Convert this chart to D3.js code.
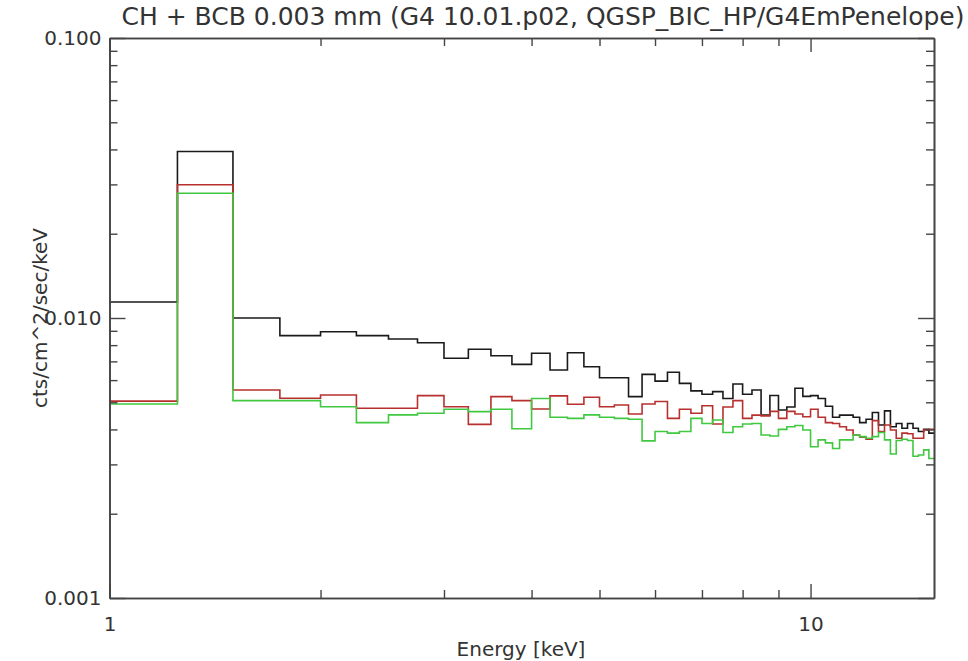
<!DOCTYPE html>
<html>
<head>
<meta charset="utf-8">
<script src="https://cdn.jsdelivr.net/npm/d3@7"></script>
<style>
  body { margin: 0; background: #fff; }
  svg { display: block; }
  text { font-family: "DejaVu Sans", sans-serif; fill: #333; }
</style>
</head>
<body>
<svg width="968" height="661"></svg>
<script>
// bin edges: 1 keV to 15 keV, 0.25 keV wide
const binEdges = d3.range(1, 15.001, 0.25)

// counts per bin (cts/cm^2/sec/keV)
const blackValues = [
  0.0114, 0.0393, 0.0100, 0.00865, 0.00893, 0.00865, 0.00841, 0.00816, 0.00718, 0.00773,
  0.00733, 0.00683, 0.00748, 0.00652, 0.00751, 0.00670, 0.00612, 0.00612, 0.00524, 0.00629,
  0.00595, 0.00640, 0.00584, 0.00549, 0.00534, 0.00546, 0.00516, 0.00581, 0.00534, 0.00553,
  0.00450, 0.00529, 0.00469, 0.00481, 0.00561, 0.00525, 0.00528, 0.00516, 0.00484, 0.00442,
  0.00450, 0.00450, 0.00442, 0.00423, 0.00435, 0.00460, 0.00415, 0.00466, 0.00409, 0.00420,
  0.00404, 0.00420, 0.00404, 0.00393, 0.00400, 0.00388
]
const redValues = [
  0.00505, 0.0299, 0.00553, 0.00517, 0.00531, 0.00476, 0.00476, 0.00528, 0.00482, 0.00417,
  0.00524, 0.00507, 0.00473, 0.00527, 0.00492, 0.00521, 0.00482, 0.00489, 0.00454, 0.00493,
  0.00503, 0.00438, 0.00472, 0.00457, 0.00486, 0.00418, 0.00481, 0.00507, 0.00438, 0.00450,
  0.00447, 0.00464, 0.00438, 0.00464, 0.00454, 0.00444, 0.00472, 0.00442, 0.00423, 0.00420,
  0.00409, 0.00398, 0.00382, 0.00375, 0.00369, 0.00430, 0.00393, 0.00415, 0.00398, 0.00372,
  0.00388, 0.00386, 0.00372, 0.00372, 0.00398, 0.00400
]
const greenValues = [
  0.00493, 0.0279, 0.00507, 0.00507, 0.00482, 0.00423, 0.00451, 0.00457, 0.00472, 0.00463,
  0.00472, 0.00402, 0.00516, 0.00442, 0.00438, 0.00451, 0.00442, 0.00438, 0.00435, 0.00364,
  0.00393, 0.00388, 0.00393, 0.00438, 0.00420, 0.00432, 0.00390, 0.00409, 0.00418, 0.00420,
  0.00382, 0.00379, 0.00400, 0.00409, 0.00413, 0.00398, 0.00347, 0.00367, 0.00358, 0.00342,
  0.00367, 0.00367, 0.00382, 0.00377, 0.00372, 0.00377, 0.00390, 0.00367, 0.00327, 0.00365,
  0.00369, 0.00365, 0.00321, 0.00324, 0.00338, 0.00315
]

// tick labels
const xMajorTicks = [1, 10]
const xMinorTicks = [2, 3, 4, 5, 6, 7, 8, 9]
const yMajorTicks = [0.001, 0.01, 0.1]
const yMajorLabels = ["0.001", "0.010", "0.100"]
const yMinorTicks = [2, 3, 4, 5, 6, 7, 8, 9].flatMap(k => [k * 0.001, k * 0.01])

const series = [
  {name: "black", values: blackValues, color: "#1a1a1a"},
  {name: "red", values: redValues, color: "#b8302e"},
  {name: "green", values: greenValues, color: "#40c840"}
]

var svg = d3.select("svg"),
    margin = {top: 38, right: 34, bottom: 63, left: 109.5},
    width = 968 - margin.left - margin.right,
    height = 661 - margin.top - margin.bottom,
    g = svg.append("g").attr("transform", "translate(" + margin.left + "," + margin.top + ")")

var x = d3.scaleLog().domain([1, 15]).range([0, width])
var y = d3.scaleLog().domain([0.001, 0.1]).range([height, 0])

// step histograms, drawn black, red, green
const line = d3.line()
  .x(d => x(d[0]))
  .y(d => y(d[1]))
  .curve(d3.curveStepAfter)

series.forEach(s => {
  let pts = s.values.map((v, i) => [binEdges[i], v])
  pts.push([binEdges[s.values.length], s.values[s.values.length - 1]])
  g.append("path")
    .datum(pts)
    .attr("fill", "none")
    .attr("stroke", s.color)
    .attr("stroke-width", 1.6)
    .attr("d", line)
})

// axes, ticks pointing inside like IDL
function styleAxis(sel) {
  sel.select(".domain").attr("stroke", "#444").attr("stroke-width", 1.6)
  sel.selectAll(".tick line").attr("stroke", "#444").attr("stroke-width", 1.4)
}
function styleLabels(sel) {
  sel.selectAll(".tick text").attr("font-size", 20).attr("fill", "#333").style("font-family", "DejaVu Sans")
}

g.append("g").attr("transform", "translate(0," + height + ")")
  .call(d3.axisBottom(x).tickValues(xMajorTicks).tickSize(-14).tickSizeOuter(0).tickPadding(19).tickFormat(d3.format("d")))
  .call(styleAxis)
  .call(styleLabels)
g.append("g").attr("transform", "translate(0," + height + ")")
  .call(d3.axisBottom(x).tickValues(xMinorTicks).tickSize(-8).tickSizeOuter(0).tickFormat(""))
  .call(styleAxis)

g.append("g")
  .call(d3.axisTop(x).tickValues(xMajorTicks).tickSize(-14).tickSizeOuter(0).tickFormat(""))
  .call(styleAxis)
g.append("g")
  .call(d3.axisTop(x).tickValues(xMinorTicks).tickSize(-8).tickSizeOuter(0).tickFormat(""))
  .call(styleAxis)

g.append("g")
  .call(d3.axisLeft(y).tickValues(yMajorTicks).tickSize(-16).tickSizeOuter(0).tickPadding(8)
    .tickFormat((d, i) => yMajorLabels[i]))
  .call(styleAxis)
  .call(styleLabels)
g.append("g")
  .call(d3.axisLeft(y).tickValues(yMinorTicks).tickSize(-8).tickSizeOuter(0).tickFormat(""))
  .call(styleAxis)

g.append("g").attr("transform", "translate(" + width + ",0)")
  .call(d3.axisRight(y).tickValues(yMajorTicks).tickSize(-16).tickSizeOuter(0).tickFormat(""))
  .call(styleAxis)
g.append("g").attr("transform", "translate(" + width + ",0)")
  .call(d3.axisRight(y).tickValues(yMinorTicks).tickSize(-8).tickSizeOuter(0).tickFormat(""))
  .call(styleAxis)

// title and axis labels
svg.append("text")
  .attr("x", 543)
  .attr("y", 25)
  .attr("text-anchor", "middle")
  .attr("font-size", 25)
  .attr("textLength", 843)
  .text("CH + BCB 0.003 mm (G4 10.01.p02, QGSP_BIC_HP/G4EmPenelope)")

svg.append("text")
  .attr("x", 521)
  .attr("y", 656)
  .attr("text-anchor", "middle")
  .attr("font-size", 20)
  .text("Energy [keV]")

svg.append("text")
  .attr("transform", "translate(47," + (margin.top + height / 2) + ") rotate(-90)")
  .attr("text-anchor", "middle")
  .attr("font-size", 20)
  .text("cts/cm^2/sec/keV")
</script>
</body>
</html>
